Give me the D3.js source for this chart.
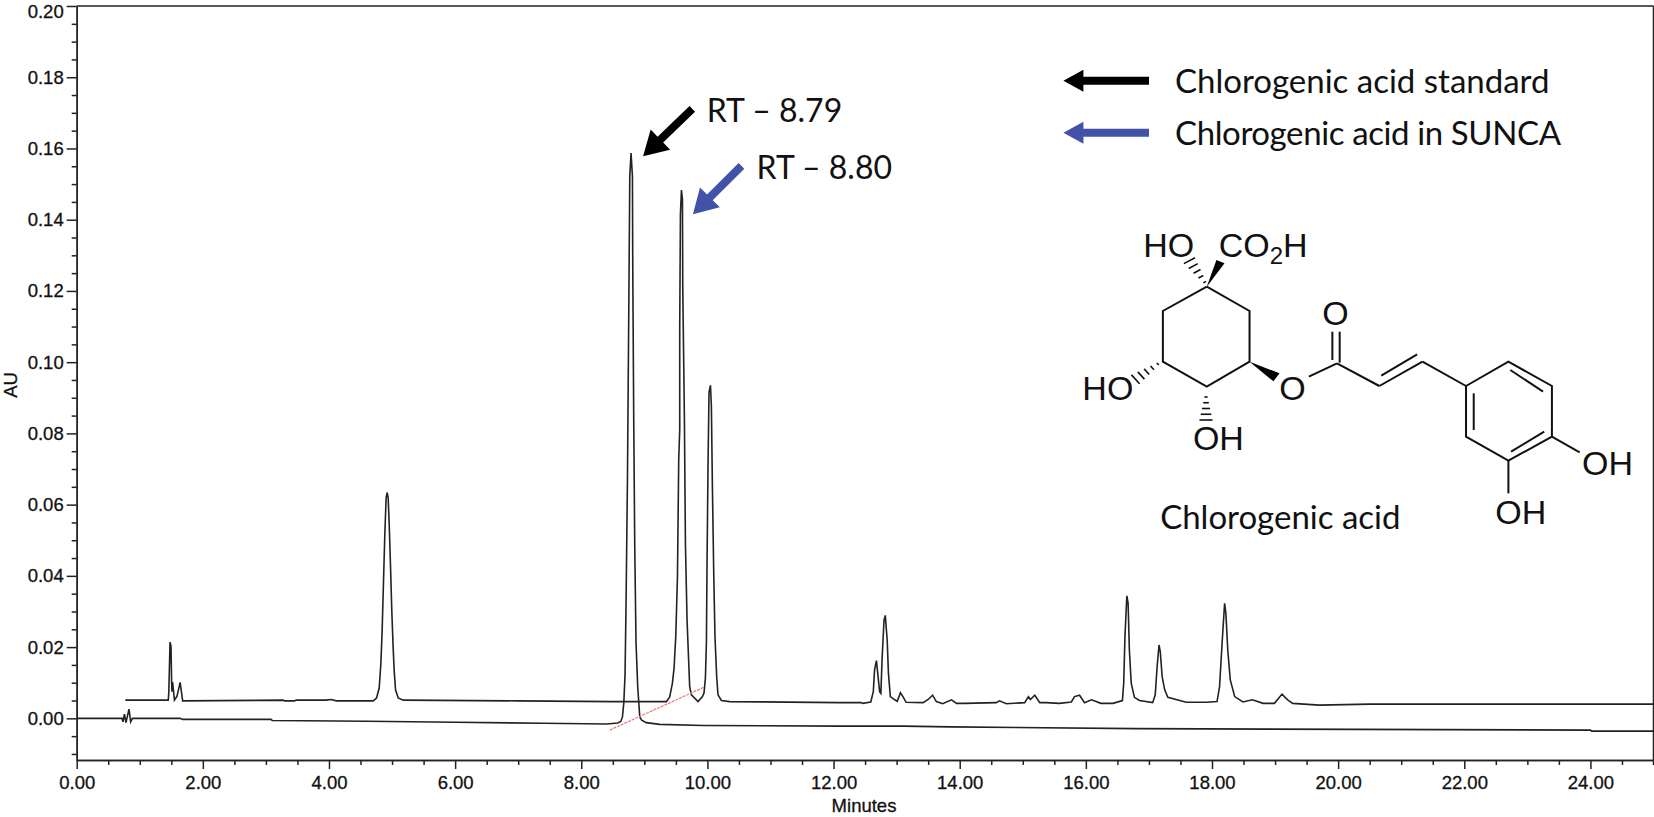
<!DOCTYPE html>
<html>
<head>
<meta charset="utf-8">
<title>Chlorogenic acid chromatogram</title>
<script src="https://cdn.jsdelivr.net/npm/d3@7"></script>
<style>
  html, body { margin: 0; padding: 0; background: #fff; overflow: hidden; }
  svg { display: block; }
  .axis text { font-family: "Liberation Sans", Arial, sans-serif; font-size: 18.5px; fill: #111; stroke: #111; stroke-width: 0.3; }
  .axis path, .axis line { stroke: #222; stroke-width: 1.5; }
  .note { font-family: Lato, "Open Sans", sans-serif; fill: #111; }
  .atom { font-family: "Liberation Sans", Arial, sans-serif; font-size: 34px; fill: #111; }
  .title { font-family: "Liberation Sans", Arial, sans-serif; font-size: 18.5px; fill: #111; stroke: #111; stroke-width: 0.3; }
</style>
</head>
<body>
<div id="chart"></div>
<script>
// Readings, [minutes, AU]
var standardTrace = [
  [0, 0], [0.718, 0], [0.734, -0.001], [0.757, 0.0012], [0.781, -0.0012], [0.829, 0.0026], [0.856, -0.001], [0.884, 0],
  [1.64, 0], [1.68, -0.0003], [3.08, -0.0003], [3.1, -0.0006], [4.6, -0.0008], [6.0, -0.0011], [7.4, -0.0014], [8.4, -0.0016],
  [8.578, -0.0013], [8.626, -0.0009], [8.653, 0.0004], [8.674, 0.0043], [8.694, 0.0122], [8.71, 0.0324], [8.732, 0.067],
  [8.753, 0.114], [8.769, 0.1522], [8.789, 0.1587], [8.811, 0.1522], [8.816, 0.1275], [8.832, 0.083], [8.848, 0.0479],
  [8.868, 0.0212], [8.895, 0.0088], [8.927, 0.0004], [8.958, -0.0005], [9.03, -0.0012], [9.244, -0.0017], [9.94, -0.002],
  [12.1, -0.0022], [13.1, -0.0022], [13.85, -0.0024], [16.78, -0.0029], [24.0, -0.0033], [24.02, -0.0036], [25, -0.0036]
];

var sampleTrace = [
  [0.77, 0.0051], [1.452, 0.0051], [1.46, 0.0072], [1.48, 0.0214], [1.495, 0.0203], [1.505, 0.0102], [1.51, 0.0075],
  [1.52, 0.0102], [1.55, 0.0051], [1.59, 0.0062], [1.64, 0.0101], [1.66, 0.0075], [1.68, 0.0049], [3.27, 0.0051],
  [3.3, 0.0049], [3.45, 0.0049], [3.48, 0.0051], [3.95, 0.0051], [4.03, 0.0053], [4.12, 0.0049], [4.70, 0.0049],
  [4.754, 0.0057], [4.796, 0.0085], [4.823, 0.0155], [4.843, 0.0248], [4.865, 0.0389], [4.886, 0.0521], [4.906, 0.0619],
  [4.923, 0.0634], [4.938, 0.0619], [4.954, 0.0549], [4.976, 0.0425], [4.997, 0.0296], [5.017, 0.02], [5.033, 0.0136],
  [5.055, 0.008], [5.097, 0.0057], [5.176, 0.0051], [7.0, 0.0049], [8.5, 0.0047], [9.35, 0.0047],
  [9.402, 0.006], [9.445, 0.0099], [9.471, 0.0141], [9.498, 0.0229], [9.525, 0.0397], [9.545, 0.0726], [9.561, 0.0811],
  [9.561, 0.11], [9.572, 0.1415], [9.588, 0.1483], [9.604, 0.1457], [9.609, 0.1213], [9.635, 0.0844], [9.651, 0.0493],
  [9.677, 0.0276], [9.704, 0.0155], [9.719, 0.0088], [9.746, 0.0066], [9.851, 0.0047], [9.921, 0.0061], [9.946, 0.0071],
  [9.968, 0.0113], [9.984, 0.0212], [9.994, 0.0437], [10.009, 0.0698], [10.025, 0.0915], [10.048, 0.0935], [10.063, 0.0875],
  [10.079, 0.065], [10.10, 0.0409], [10.12, 0.0229], [10.147, 0.0116], [10.168, 0.0066], [10.222, 0.005], [10.35, 0.0047],
  [12.10, 0.0044], [12.44, 0.0044], [12.46, 0.0042], [12.59, 0.0046], [12.63, 0.0075], [12.65, 0.0136], [12.68, 0.0162],
  [12.70, 0.0127], [12.73, 0.0075], [12.75, 0.007], [12.77, 0.0169], [12.80, 0.0276], [12.82, 0.0289], [12.85, 0.022],
  [12.87, 0.0127], [12.90, 0.0061], [12.97, 0.0052], [13.01, 0.0048], [13.06, 0.0072], [13.10, 0.0061], [13.15, 0.0045],
  [13.42, 0.0044], [13.50, 0.0053], [13.57, 0.0065], [13.63, 0.0047], [13.73, 0.0041], [13.87, 0.0052], [13.95, 0.0042],
  [14.08, 0.0042], [14.58, 0.0044], [14.63, 0.0049], [14.74, 0.0041], [15.03, 0.0044], [15.09, 0.0061], [15.12, 0.0053],
  [15.19, 0.0065], [15.27, 0.0044], [15.37, 0.0044], [15.58, 0.0042], [15.77, 0.0046], [15.82, 0.0061], [15.90, 0.0065],
  [15.98, 0.0044], [16.09, 0.0052], [16.24, 0.0042], [16.43, 0.0042], [16.58, 0.005], [16.60, 0.0098], [16.62, 0.023],
  [16.65, 0.0344], [16.67, 0.0323], [16.69, 0.0192], [16.72, 0.0098], [16.77, 0.0059], [16.85, 0.005], [17.06, 0.0044],
  [17.10, 0.0066], [17.13, 0.0145], [17.16, 0.0206], [17.18, 0.0187], [17.21, 0.0117], [17.25, 0.008], [17.30, 0.0059],
  [17.49, 0.005], [17.59, 0.0045], [17.91, 0.0045], [18.08, 0.0047], [18.12, 0.0089], [18.16, 0.0211], [18.20, 0.0323],
  [18.22, 0.0295], [18.25, 0.0192], [18.29, 0.0108], [18.36, 0.0061], [18.49, 0.0046], [18.64, 0.0052], [18.81, 0.0042],
  [18.99, 0.0042], [19.11, 0.0068], [19.20, 0.0052], [19.28, 0.0042], [19.70, 0.0037], [20.5, 0.004], [25, 0.004]
];

var integrationLine = [[8.452, -0.0033], [9.94, 0.0087]];

var xMajorTicks = [0, 2, 4, 6, 8, 10, 12, 14, 16, 18, 20, 22, 24];
var xMinorTicks = [0.5, 1, 1.5, 2.5, 3, 3.5, 4.5, 5, 5.5, 6.5, 7, 7.5, 8.5, 9, 9.5, 10.5, 11, 11.5, 12.5, 13, 13.5,
  14.5, 15, 15.5, 16.5, 17, 17.5, 18.5, 19, 19.5, 20.5, 21, 21.5, 22.5, 23, 23.5, 24.5, 25];
var yMajorTicks = [0, 0.02, 0.04, 0.06, 0.08, 0.10, 0.12, 0.14, 0.16, 0.18, 0.20];
var yMinorTicks = [-0.01, -0.005, 0.005, 0.01, 0.015, 0.025, 0.03, 0.035, 0.045, 0.05, 0.055, 0.065, 0.07, 0.075,
  0.085, 0.09, 0.095, 0.105, 0.11, 0.115, 0.125, 0.13, 0.135, 0.145, 0.15, 0.155, 0.165, 0.17, 0.175, 0.185, 0.19, 0.195];

// RT arrows: tail and tip in chart units
var rtArrows = [
  { label: "RT – 8.79", color: "#000", tail: [9.76, 0.1711], tip: [8.98, 0.1578], textAt: [9.99, 0.1674] },
  { label: "RT – 8.80", color: "#4252a8", tail: [10.54, 0.1551], tip: [9.77, 0.1415], textAt: [10.78, 0.1515] }
];

var legendLabels = ["Chlorogenic acid standard", "Chlorogenic acid in SUNCA"];
var legendColors = ["#000", "#4252a8"];

// Molecule drawing, units are arbitrary sketch units, see molX/molY below
var ringA = [[407, 230], [518, 303], [518, 455], [407, 530], [293, 455], [293, 303], [407, 230]];
var ringB = [[1080, 528], [1190, 455], [1303, 528], [1303, 680], [1190, 752], [1080, 680], [1080, 528]];
var bonds = [
  [[672, 500], [745, 460]], [[733, 365], [733, 450]], [[752, 365], [752, 458]], [[745, 460], [855, 528]],
  [[855, 528], [967, 455]], [[860, 497], [953, 433]], [[967, 455], [1080, 528]], [[1195, 480], [1280, 545]],
  [[1100, 550], [1100, 660]], [[1197, 725], [1283, 665]], [[1303, 680], [1375, 727]], [[1190, 752], [1190, 850]]
];
var wedges = [
  [[407, 230], [432, 150], [453, 160]],
  [[518, 455], [596, 490], [580, 514]]
];
var hashes = [
  { from: [405, 222], to: [362, 152] },
  { from: [285, 458], to: [222, 508] },
  { from: [405, 555], to: [405, 630] }
];
var atoms = [
  { text: "HO", x: 242, y: 140 }, { text: "HO", x: 84, y: 570 }, { text: "OH", x: 371, y: 720 },
  { text: "O", x: 595, y: 570 }, { text: "O", x: 707, y: 345 }, { text: "OH", x: 1381, y: 795 }, { text: "OH", x: 1156, y: 942 }
];

const width = 1654, height = 817;
const margin = { top: 6, right: 0.5, bottom: 57, left: 76.7 };

const svg = d3.select("#chart").append("svg")
  .attr("width", width)
  .attr("height", height);

const x = d3.scaleLinear().domain([0, 25]).range([margin.left, width - margin.right]);
const y = d3.scaleLinear().domain([-0.0117, 0.20]).range([height - margin.bottom, margin.top]);

// axes
svg.append("g").attr("class", "axis")
  .attr("transform", `translate(0,${y(-0.0117)})`)
  .call(d3.axisBottom(x).tickValues(xMinorTicks).tickSize(5).tickSizeOuter(0).tickFormat(""));

svg.append("g").attr("class", "axis")
  .attr("transform", `translate(0,${y(-0.0117)})`)
  .call(d3.axisBottom(x).tickValues(xMajorTicks).tickSize(9).tickSizeOuter(0).tickPadding(7).tickFormat(d3.format(".2f")));

svg.append("g").attr("class", "axis")
  .attr("transform", `translate(${margin.left},0)`)
  .call(d3.axisLeft(y).tickValues(yMinorTicks).tickSize(5).tickSizeOuter(0).tickFormat(""));

svg.append("g").attr("class", "axis")
  .attr("transform", `translate(${margin.left},0)`)
  .call(d3.axisLeft(y).tickValues(yMajorTicks).tickSize(10).tickSizeOuter(0).tickPadding(3).tickFormat(d3.format(".2f")))
  .selectAll("text")
  // top label would run off the page
  .attr("dy", d => d === 0.20 ? "0.6em" : "0.32em");

// top and right frame
svg.append("line").attr("x1", x(0)).attr("x2", x(25)).attr("y1", y(0.20)).attr("y2", y(0.20))
  .attr("stroke", "#222").attr("stroke-width", 1.5);
svg.append("line").attr("x1", x(25)).attr("x2", x(25)).attr("y1", y(0.20)).attr("y2", y(-0.0117) + 5)
  .attr("stroke", "#222").attr("stroke-width", 1.5);

svg.append("text").attr("class", "title")
  .attr("x", 864).attr("y", 812)
  .attr("text-anchor", "middle")
  .text("Minutes");

svg.append("text").attr("class", "title")
  .attr("transform", "translate(17,385) rotate(-90)")
  .attr("text-anchor", "middle")
  .text("AU");

// traces
const line = d3.line().x(d => x(d[0])).y(d => y(d[1]));

svg.append("path").datum(standardTrace)
  .attr("fill", "none").attr("stroke", "#222").attr("stroke-width", 1.6).attr("d", line);
svg.append("path").datum(sampleTrace)
  .attr("fill", "none").attr("stroke", "#222").attr("stroke-width", 1.6).attr("d", line);
svg.append("path").datum(integrationLine)
  .attr("fill", "none").attr("stroke", "#f47c7c").attr("stroke-width", 1.3).attr("stroke-dasharray", "3,1").attr("d", line);

// block arrow from tail to tip
function arrowPath(x0, y0, x1, y1, shaft, headW, headL) {
  const a = Math.atan2(y1 - y0, x1 - x0);
  const len = Math.hypot(x1 - x0, y1 - y0);
  const pts = [[0, -shaft / 2], [len - headL, -shaft / 2], [len - headL, -headW / 2], [len, 0],
    [len - headL, headW / 2], [len - headL, shaft / 2], [0, shaft / 2]];
  return d3.line()(pts.map(p => [x0 + p[0] * Math.cos(a) - p[1] * Math.sin(a), y0 + p[0] * Math.sin(a) + p[1] * Math.cos(a)])) + "Z";
}

rtArrows.forEach(d => {
  svg.append("path")
    .attr("d", arrowPath(x(d.tail[0]), y(d.tail[1]), x(d.tip[0]), y(d.tip[1]), 8, 28, 24))
    .attr("fill", d.color);
  svg.append("text").attr("class", "note")
    .attr("x", x(d.textAt[0])).attr("y", y(d.textAt[1]))
    .style("font-size", "32px")
    .text(d.label);
});

// legend
const legend = svg.selectAll(".legend").data(legendLabels).enter().append("g")
  .attr("class", "legend")
  .attr("transform", (d, i) => `translate(0,${80.7 + i * 52})`);

legend.append("path")
  .attr("d", arrowPath(1149, 0, 1063.4, 0, 8, 22, 20))
  .attr("fill", (d, i) => legendColors[i]);

// Lato runs a bit wide on the capitals, squeeze the second label to the original length
legend.append("text").attr("class", "note")
  .attr("x", 1175).attr("y", 12)
  .attr("textLength", (d, i) => i === 1 ? 386 : null)
  .style("font-size", "33px")
  .text(d => d);

// molecule
const molX = d3.scaleLinear().domain([0, 1568]).range([1050, 1654]);
const molY = d3.scaleLinear().domain([0, 1020]).range([210, 550]);
const mol = svg.append("g");
const molLine = d3.line().x(d => molX(d[0])).y(d => molY(d[1]));

[ringA, ringB].concat(bonds).forEach(b => {
  mol.append("path").attr("d", molLine(b))
    .attr("fill", "none").attr("stroke", "#111").attr("stroke-width", 2);
});

wedges.forEach(w => {
  mol.append("path").attr("d", molLine(w) + "Z").attr("fill", "#000");
});

// hashed bonds get wider towards the far end
hashes.forEach(h => {
  const dx = h.to[0] - h.from[0], dy = h.to[1] - h.from[1];
  const len = Math.hypot(dx, dy);
  d3.range(0.08, 1.01, 0.23).forEach(f => {
    const half = 3 + f * 14;
    const cx = h.from[0] + dx * f, cy = h.from[1] + dy * f;
    mol.append("path")
      .attr("d", molLine([[cx - dy / len * half, cy + dx / len * half], [cx + dy / len * half, cy - dx / len * half]]))
      .attr("stroke", "#111").attr("stroke-width", 1.6);
  });
});

mol.selectAll(".atom").data(atoms).enter().append("text")
  .attr("class", "atom")
  .attr("x", d => molX(d.x)).attr("y", d => molY(d.y))
  .text(d => d.text);

const co2h = mol.append("text").attr("class", "atom")
  .attr("x", molX(438)).attr("y", molY(140));
co2h.append("tspan").text("CO");
co2h.append("tspan").attr("dy", 7).style("font-size", "24px").text("2");
co2h.append("tspan").attr("dy", -7).text("H");

mol.append("text").attr("class", "note")
  .attr("x", molX(286)).attr("y", molY(958))
  .style("font-size", "33px")
  .text("Chlorogenic acid");
</script>
</body>
</html>
